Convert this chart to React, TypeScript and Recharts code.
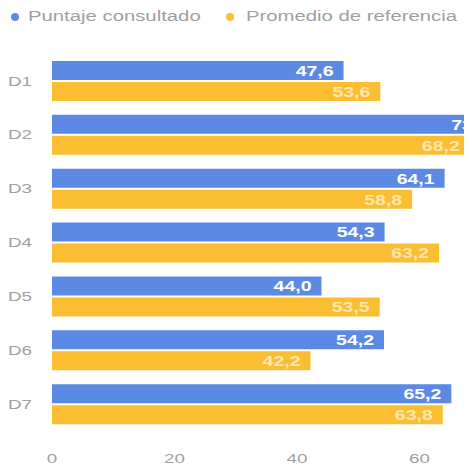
import { BarChart, Bar, XAxis, YAxis, Legend, LabelList } from 'recharts';

const categories = ['D1', 'D2', 'D3', 'D4', 'D5', 'D6', 'D7'];
const puntaje = [47.6, 73.0, 64.1, 54.3, 44.0, 54.2, 65.2];
const promedio = [53.6, 68.2, 58.8, 63.2, 53.5, 42.2, 63.8];
const xTicks = [0, 20, 40, 60];

const BLUE = '#5b89e4';
const ORANGE = '#fbbd32';
const STRETCH = 1.45;

const data = categories.map((name, i) => ({
  name,
  puntaje: puntaje[i],
  promedio: promedio[i],
}));

const fmt = (v: any) => Number(v).toFixed(1).replace('.', ',');

// the source image is stretched sideways, so text gets a scaleX
const XTick = ({ x, y, payload }: any) => (
  <text transform={`translate(${x},${y}) scale(${STRETCH},1)`} textAnchor="middle" dy="0.71em" fill="#a0a0a0" fontSize={13}>
    {payload.value}
  </text>
);

const YTick = ({ x, y, payload }: any) => (
  <text transform={`translate(${x},${y}) scale(${STRETCH},1)`} textAnchor="end" dy="0.355em" fill="#a0a0a0" fontSize={13}>
    {payload.value}
  </text>
);

const barLabel = (color: string) => (props: any) => {
  const { x, y, width, height, value } = props;
  return (
    <text
      transform={`translate(${x + width - 10},${y + height / 2}) scale(1.3,1)`}
      textAnchor="end"
      dy="0.36em"
      fill={color}
      fontSize={15}
      fontWeight="bold"
    >
      {fmt(value)}
    </text>
  );
};

const LegendBox = () => {
  const item = (color: string, label: string, dotX: number, textX: number) => (
    <div key={label}>
      <span style={{ position: 'absolute', left: dotX - 4, top: 13, width: 8, height: 8, borderRadius: 4, background: color }} />
      <span
        style={{
          position: 'absolute',
          left: textX,
          top: 8,
          fontSize: 14,
          color: '#a0a0a0',
          whiteSpace: 'nowrap',
          transform: `scaleX(${STRETCH})`,
          transformOrigin: 'left center',
        }}
      >
        {label}
      </span>
    </div>
  );
  return (
    <div style={{ position: 'relative', width: 472, height: 30 }}>
      {item(BLUE, 'Puntaje consultado', 15, 28)}
      {item(ORANGE, 'Promedio de referencia', 230, 246)}
    </div>
  );
};

export default function App() {
  return (
    <div style={{ margin: -8, width: 472, height: 475, overflow: 'hidden', fontFamily: 'Liberation Sans, Arial, sans-serif' }}>
      <BarChart
        width={560}
        height={475}
        data={data}
        layout="vertical"
        margin={{ top: 24, right: 18, bottom: 0, left: 0 }}
        barSize={19}
        barGap={2}
      >
        <Legend verticalAlign="top" align="left" content={<LegendBox />} wrapperStyle={{ top: 0, left: 0, width: 472 }} />
        <XAxis
          type="number"
          domain={[0, 80]}
          ticks={xTicks}
          axisLine={false}
          tickLine={false}
          tickMargin={17}
          height={44}
          tick={<XTick />}
        />
        <YAxis
          type="category"
          dataKey="name"
          width={52}
          axisLine={false}
          tickLine={false}
          tickMargin={14}
          tick={<YTick />}
        />
        <Bar dataKey="puntaje" name="Puntaje consultado" fill={BLUE} isAnimationActive={false}>
          <LabelList dataKey="puntaje" content={barLabel('#ffffff')} />
        </Bar>
        <Bar dataKey="promedio" name="Promedio de referencia" fill={ORANGE} isAnimationActive={false}>
          <LabelList dataKey="promedio" content={barLabel('#fde7ad')} />
        </Bar>
      </BarChart>
    </div>
  );
}
